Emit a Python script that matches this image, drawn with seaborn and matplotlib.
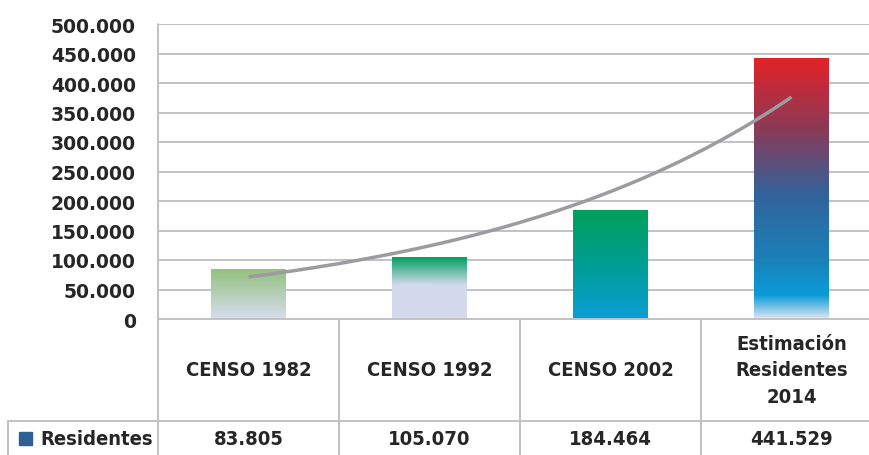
import numpy as np
import pandas as pd
import matplotlib
matplotlib.use("Agg")
import matplotlib.pyplot as plt
import matplotlib.transforms as mtransforms
from matplotlib.colors import LinearSegmentedColormap
from matplotlib.lines import Line2D
from matplotlib.patches import Rectangle
import seaborn as sns

# ---- data ----
categories = ["CENSO 1982", "CENSO 1992", "CENSO 2002", "Estimación\nResidentes\n2014"]
residentes = [83805, 105070, 184464, 441529]
value_labels = ["83.805", "105.070", "184.464", "441.529"]
series_name = "Residentes"
yticks = [0, 50000, 100000, 150000, 200000, 250000, 300000, 350000, 400000, 450000, 500000]
ytick_labels = ["0", "50.000", "100.000", "150.000", "200.000", "250.000",
                "300.000", "350.000", "400.000", "450.000", "500.000"]

# gradient stops per bar (top -> bottom)
bar_gradients = [
    [(0.0, "#93c17e"), (1.0, "#d7ddef")],
    [(0.0, "#00a060"), (0.45, "#d4d9ec"), (1.0, "#d4d9ec")],
    [(0.0, "#00a05a"), (0.5, "#009e94"), (1.0, "#0c9dd8")],
    [(0.0, "#e32228"), (0.27, "#8b3a58"), (0.52, "#33629a"),
     (0.78, "#1a82ba"), (0.91, "#0a9bd8"), (1.0, "#dfe5f3")],
]

W, H = 869, 456
GRID = "#c2c2c6"
TXT = "#262626"

sns.set_theme(style="white")
plt.rcParams['font.family'] = ['DejaVu Sans']

fig = plt.figure(figsize=(W / 100, H / 100), dpi=100)
ax = fig.add_axes([158 / W, (H - 320) / H, 724 / W, 295 / H])

df = pd.DataFrame({"cat": categories, "val": residentes})
sns.barplot(data=df, x="cat", y="val", ax=ax, width=0.41, color="white",
            saturation=1, errorbar=None)

for patch, stops in zip(ax.patches, bar_gradients):
    x0 = patch.get_x()
    w = patch.get_width()
    h = patch.get_height()
    cmap = LinearSegmentedColormap.from_list("g", stops)
    grad = cmap(np.linspace(0, 1, 256))[:, None, :]
    ax.imshow(grad, extent=(x0, x0 + w, 0, h), origin="upper",
              aspect="auto", zorder=2, interpolation="bilinear")
    patch.set_visible(False)

# exponential trendline
xs = np.arange(len(residentes))
b, a = np.polyfit(xs, np.log(residentes), 1)
xx = np.linspace(0, len(residentes) - 1, 200)
ax.plot(xx, np.exp(a + b * xx), color="#9c9ca0", lw=2.5, zorder=3,
        solid_capstyle="butt")

ax.set_xlim(-0.5, 3.5)
ax.set_ylim(0, 500000)
ax.set_yticks(yticks)
ax.set_yticklabels(ytick_labels, fontsize=13.5, fontweight="bold", color=TXT)
ax.tick_params(axis="y", length=0, pad=16)
ax.set_xticks([])
ax.set_xlabel("")
ax.set_ylabel("")
ax.yaxis.grid(True, color=GRID, lw=1.4)
ax.xaxis.grid(False)
ax.set_axisbelow(True)
for s in ["top", "right", "bottom", "left"]:
    ax.spines[s].set_visible(False)
ax.patch.set_alpha(0)

# ---- data table below ----
def fy(ypx):
    return 1 - ypx / H

blend = mtransforms.blended_transform_factory(ax.transData, fig.transFigure)
lw = 1.4
fig.add_artist(Line2D([158 / W, 158 / W], [fy(25), fy(456)], color=GRID, lw=lw))
for xb in [0.5, 1.5, 2.5]:
    fig.add_artist(Line2D([xb, xb], [fy(320), fy(456)], color=GRID, lw=lw,
                          transform=blend))
fig.add_artist(Line2D([158 / W, 1], [fy(320), fy(320)], color=GRID, lw=lw))
fig.add_artist(Line2D([8 / W, 1], [fy(422), fy(422)], color=GRID, lw=lw))
fig.add_artist(Line2D([8 / W, 8 / W], [fy(422), fy(456)], color=GRID, lw=lw))

tfont = dict(fontsize=14.5, fontweight="bold", color=TXT, fontstretch="condensed")
for i, (cat, vl) in enumerate(zip(categories, value_labels)):
    fig.text(i, fy(371), cat, transform=blend, ha="center", va="center",
             linespacing=1.5, **tfont)
    fig.text(i, fy(440), vl, transform=blend, ha="center", va="center", **tfont)

fig.add_artist(Rectangle((19 / W, fy(446)), 13 / W, 13 / H, color="#2e6096",
                         transform=fig.transFigure))
fig.text(40 / W, fy(440), series_name, ha="left", va="center", **tfont)

fig.savefig("out.png", dpi=100)
